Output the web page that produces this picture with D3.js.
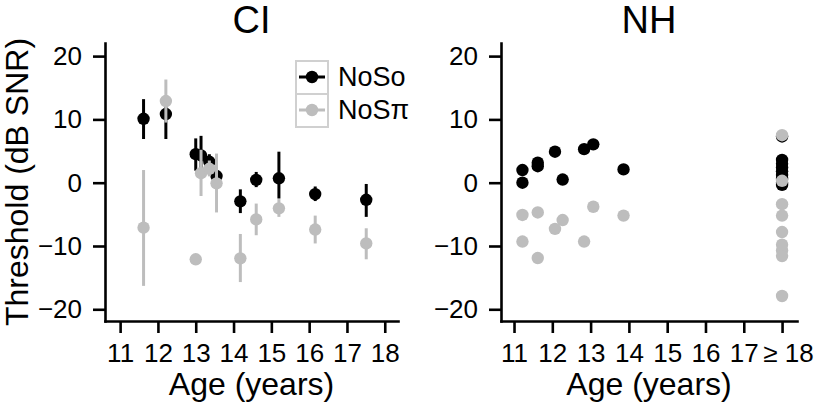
<!DOCTYPE html>
<html><head><meta charset="utf-8">
<script src="https://cdn.jsdelivr.net/npm/d3@7/dist/d3.min.js"></script>
<style>
body{margin:0;background:#fff;}
text{font-family:"Liberation Sans",Arial,Helvetica,sans-serif;fill:#000;}
</style></head>
<body>
<svg id="chart" width="815" height="406"></svg>
<script>
// ---- Data ----
const panels = ["CI", "NH"];
const seriesNames = ["NoSo", "NoSπ"];
const yTicks = [-20, -10, 0, 10, 20];
const xTicks = [11, 12, 13, 14, 15, 16, 17, 18];
const xTickLabelsCI = ["11","12","13","14","15","16","17","18"];
const xTickLabelsNH = ["11","12","13","14","15","16","17","≥ 18"];

// CI: age, mean, lower, upper
const ciAge      = [11.62, 12.21, 13.00, 13.14, 13.36, 13.55, 14.18, 14.60, 15.20, 16.16, 17.51];
const ciNoSo     = [10.1, 10.85, 4.5, 4.3, 3.3, 1.05, -2.95, 0.45, 0.7, -1.8, -2.7];
const ciNoSoLo   = [6.9, 6.9, 1.9, 1.5, 2.0, 0.0, -4.8, -0.7, -2.5, -2.9, -5.4];
const ciNoSoHi   = [13.2, 13.5, 7.0, 7.4, 4.5, 2.0, -1.05, 1.7, 4.9, -0.6, -0.2];
const ciNoSpi    = [-7.1, 12.9, -12.1, 1.5, 2.2, -0.1, -11.95, -5.8, -4.05, -7.4, -9.6];
const ciNoSpiLo  = [-16.3, 9.5, -12.1, -2.1, 1.0, -4.7, -15.7, -8.3, -5.4, -9.6, -12.1];
const ciNoSpiHi  = [2.0, 16.3, -12.1, 5.2, 3.5, 4.6, -8.1, -3.3, -2.6, -5.2, -7.2];

// NH: individual listeners (age 18 = adults "≥ 18")
const nhAge    = [11.22, 11.22, 11.62, 11.62, 12.07, 12.27, 12.83, 13.07, 13.86, 18, 18, 18, 18, 18, 18, 18, 18, 18];
const nhNoSo   = [2.0, 0.0, 3.16, 2.6, 4.9, 0.5, 5.3, 6.06, 2.1, 7.3, 3.6, 3.0, 2.4, 1.8, 1.2, 0.6, 0.0, -0.35];
const nhNoSpi  = [-5.1, -9.3, -4.7, -11.9, -7.3, -5.9, -9.3, -3.8, -5.2, 7.5, 0.3, -3.4, -5.2, -7.8, -9.8, -10.7, -11.6, -17.9];

const colors = ["#000000", "#bdbdbd"];

// ---- Layout ----
const svg = d3.select("#chart");
const yScale = d3.scaleLinear().domain([-21.85, 22.07]).range([321, 43]);
const xCI = d3.scaleLinear().domain([10.6, 18.35]).range([105, 398]);
const xNH = d3.scaleLinear().domain([10.66, 18.39]).range([501, 797]);
const R = 6.2;

function drawAxes(x, labels, title) {
  const g = svg.append("g");
  const ya = g.append("g").attr("transform", `translate(${x.range()[0]},0)`)
    .call(d3.axisLeft(yScale).tickValues(yTicks).tickSize(12).tickSizeOuter(0).tickPadding(11));
  const xa = g.append("g").attr("transform", `translate(0,${yScale.range()[0]})`)
    .call(d3.axisBottom(x).tickValues(xTicks).tickSize(12).tickSizeOuter(0).tickPadding(11)
      .tickFormat((d, i) => labels[i]));
  [ya, xa].forEach(a => {
    a.selectAll("path.domain").attr("stroke", "#000").attr("stroke-width", 2.6).attr("stroke-linecap", "square");
    a.selectAll(".tick line").attr("stroke", "#000").attr("stroke-width", 2.6);
    a.selectAll(".tick text").attr("font-size", 26).attr("fill", "#000")
      .style("font-family", '"Liberation Sans",Arial,Helvetica,sans-serif');
  });
  xa.selectAll(".tick text").filter(d => d === 18 && labels[7] !== "18").attr("dx", 6);
  const cx = (x.range()[0] + x.range()[1]) / 2;
  g.append("text").attr("x", cx).attr("y", 33).attr("text-anchor", "middle")
    .attr("font-size", 38).text(title);
  g.append("text").attr("x", cx).attr("y", 395).attr("text-anchor", "middle")
    .attr("font-size", 32).text("Age (years)");
}

drawAxes(xCI, xTickLabelsCI, panels[0]);
drawAxes(xNH, xTickLabelsNH, panels[1]);

svg.append("text").attr("transform", `translate(28,182) rotate(-90)`)
  .attr("text-anchor", "middle").attr("font-size", 32).text("Threshold (dB SNR)");

// ---- CI marks ----
function ciSeries(vals, lo, hi, color) {
  const g = svg.append("g");
  const data = ciAge.map((a, i) => ({a, v: vals[i], lo: lo[i], hi: hi[i]}));
  g.selectAll("line").data(data.filter(d => d.hi !== d.lo)).join("line")
    .attr("x1", d => xCI(d.a)).attr("x2", d => xCI(d.a))
    .attr("y1", d => yScale(d.lo)).attr("y2", d => yScale(d.hi))
    .attr("stroke", color).attr("stroke-width", 3);
  g.selectAll("circle").data(data).join("circle")
    .attr("cx", d => xCI(d.a)).attr("cy", d => yScale(d.v)).attr("r", R).attr("fill", color);
}
ciSeries(ciNoSo, ciNoSoLo, ciNoSoHi, colors[0]);
ciSeries(ciNoSpi, ciNoSpiLo, ciNoSpiHi, colors[1]);

// ---- NH marks ----
[nhNoSo, nhNoSpi].forEach((vals, k) => {
  svg.append("g").selectAll("circle").data(nhAge.map((a, i) => ({a, v: vals[i]}))).join("circle")
    .attr("cx", d => xNH(d.a)).attr("cy", d => yScale(d.v)).attr("r", R).attr("fill", colors[k]);
});

// ---- Legend ----
const lg = svg.append("g").attr("transform", "translate(296,61)");
seriesNames.forEach((name, i) => {
  const row = lg.append("g").attr("transform", `translate(0,${i * 33})`);
  row.append("rect").attr("x", 0).attr("y", 0).attr("width", 32).attr("height", 33)
    .attr("fill", "none").attr("stroke", "#d0d0d0").attr("stroke-width", 2);
  row.append("line").attr("x1", 3).attr("x2", 29).attr("y1", 16).attr("y2", 16)
    .attr("stroke", colors[i]).attr("stroke-width", 3);
  row.append("circle").attr("cx", 16).attr("cy", 16).attr("r", R).attr("fill", colors[i]);
  row.append("text").attr("x", 42).attr("y", 16).attr("dy", "0.35em")
    .attr("font-size", 27).text(name);
});
</script>
</body></html>
